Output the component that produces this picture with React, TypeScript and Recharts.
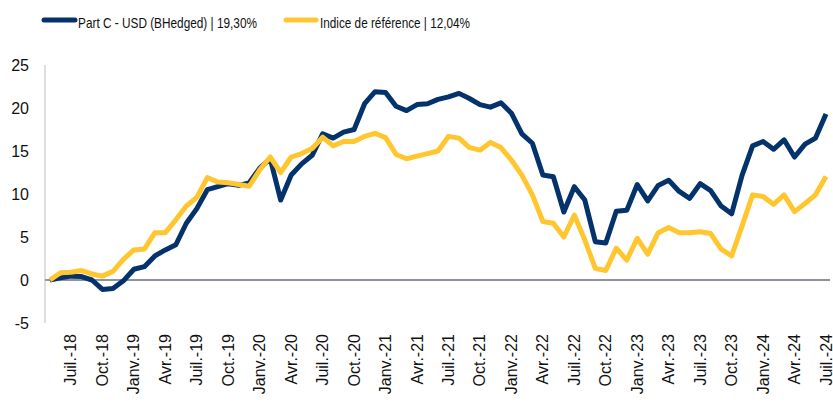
import { LineChart, Line, XAxis, YAxis, ReferenceLine } from "recharts";

const MONTHS = ["Janv.", "Févr.", "Mars", "Avr.", "Mai", "Juin", "Juil.", "Août", "Sept.", "Oct.", "Nov.", "Déc."];

// monthly categories, May 2018 -> July 2024
const categories: string[] = [];
for (let y = 2018, m = 4; y < 2024 || m <= 6; m++) {
  if (m === 12) {
    m = 0;
    y++;
  }
  categories.push(`${MONTHS[m]}-${String(y).slice(2)}`);
}

const fund = [
  0, 0.25, 0.45, 0.4, 0.0, -1.1, -1.0, -0.1, 1.25, 1.55, 2.8, 3.5, 4.1, 6.6, 8.3, 10.5, 10.85, 11.2, 11.0, 11.3,
  13.0, 14.1, 9.3, 12.2, 13.5, 14.5, 17.0, 16.5, 17.2, 17.5, 20.5, 21.9, 21.8, 20.2, 19.7, 20.4, 20.5, 21.0, 21.3, 21.7,
  21.1, 20.4, 20.1, 20.6, 19.4, 17.0, 15.9, 12.2, 12.0, 7.9, 10.85, 9.3, 4.45, 4.3, 8.0, 8.1, 11.1, 9.2, 11.0, 11.6,
  10.3, 9.5, 11.2, 10.4, 8.6, 7.7, 12.2, 15.6, 16.1, 15.2, 16.3, 14.3, 15.8, 16.5, 19.3,
];

const benchmark = [
  0, 0.85, 0.9, 1.1, 0.7, 0.45, 1.0, 2.4, 3.5, 3.6, 5.5, 5.5, 7.0, 8.6, 9.6, 11.9, 11.4, 11.3, 11.1, 10.9,
  12.8, 14.3, 12.5, 14.3, 14.7, 15.3, 16.6, 15.6, 16.1, 16.1, 16.7, 17.05, 16.55, 14.6, 14.1, 14.4, 14.7, 15.0, 16.7, 16.5,
  15.4, 15.1, 16.0, 15.4, 13.95, 12.2, 9.9, 6.8, 6.6, 5.0, 7.55, 4.65, 1.35, 1.1, 3.7, 2.3, 4.85, 3.0, 5.5, 6.1,
  5.5, 5.5, 5.6, 5.4, 3.6, 2.8, 6.3, 9.9, 9.7, 8.8, 9.9, 7.95, 8.9, 9.9, 12.04,
];

const xTicks = categories.filter((c) => /^(Janv\.|Avr\.|Juil\.|Oct\.)/.test(c));
const yTicks = [-5, 0, 5, 10, 15, 20, 25];

const FUND_LABEL = "Part C - USD (BHedged) | 19,30%";
const BENCH_LABEL = "Indice de référence | 12,04%";

const BLUE = "#04336B";
const YELLOW = "#FFC630";
const FONT = "'Liberation Sans', Arial, sans-serif";

const data = categories.map((month, i) => ({ month, fund: fund[i], benchmark: benchmark[i] }));

function MonthTick({ x, y, payload }: any) {
  return (
    <text
      transform={`translate(${x},${y}) rotate(-90)`}
      textAnchor="end"
      dominantBaseline="central"
      fontSize={16}
      fontFamily={FONT}
      fill="#111"
    >
      {payload.value}
    </text>
  );
}

export default function App() {
  return (
    <div style={{ position: "fixed", left: 0, top: 0, width: 833, height: 405, background: "#fff" }}>
      <LineChart width={833} height={405} data={data} margin={{ top: 65, right: 3, bottom: 0, left: 0 }}>
        <XAxis
          dataKey="month"
          ticks={xTicks}
          interval={0}
          height={82}
          axisLine={false}
          tickLine={false}
          tickSize={0}
          tickMargin={11}
          padding={{ left: 5, right: 4 }}
          tick={<MonthTick />}
        />
        <YAxis
          domain={[-5, 25]}
          ticks={yTicks}
          width={45}
          axisLine={{ stroke: "#BDBDBD", strokeWidth: 1 }}
          tickLine={false}
          tickSize={0}
          tickMargin={16}
          tick={{ fontSize: 16, fontFamily: FONT, fill: "#111" }}
        />
        <ReferenceLine y={0} stroke="#8E949A" strokeWidth={2} />
        <Line
          dataKey="fund"
          stroke={BLUE}
          strokeWidth={5}
          dot={false}
          strokeLinejoin="round"
          isAnimationActive={false}
        />
        <Line
          dataKey="benchmark"
          stroke={YELLOW}
          strokeWidth={5}
          dot={false}
          strokeLinejoin="round"
          isAnimationActive={false}
        />
      </LineChart>
      <svg width={833} height={40} style={{ position: "absolute", left: 0, top: 0 }}>
        <line x1={44} y1={20} x2={75} y2={20} stroke={BLUE} strokeWidth={5} strokeLinecap="round" />
        <text x={78} y={28} fontSize={15} fontFamily={FONT} fill="#111" textLength={179} lengthAdjust="spacingAndGlyphs">
          {FUND_LABEL}
        </text>
        <line x1={286} y1={20} x2={316} y2={20} stroke={YELLOW} strokeWidth={5} strokeLinecap="round" />
        <text x={320} y={28} fontSize={15} fontFamily={FONT} fill="#111" textLength={150} lengthAdjust="spacingAndGlyphs">
          {BENCH_LABEL}
        </text>
      </svg>
    </div>
  );
}
